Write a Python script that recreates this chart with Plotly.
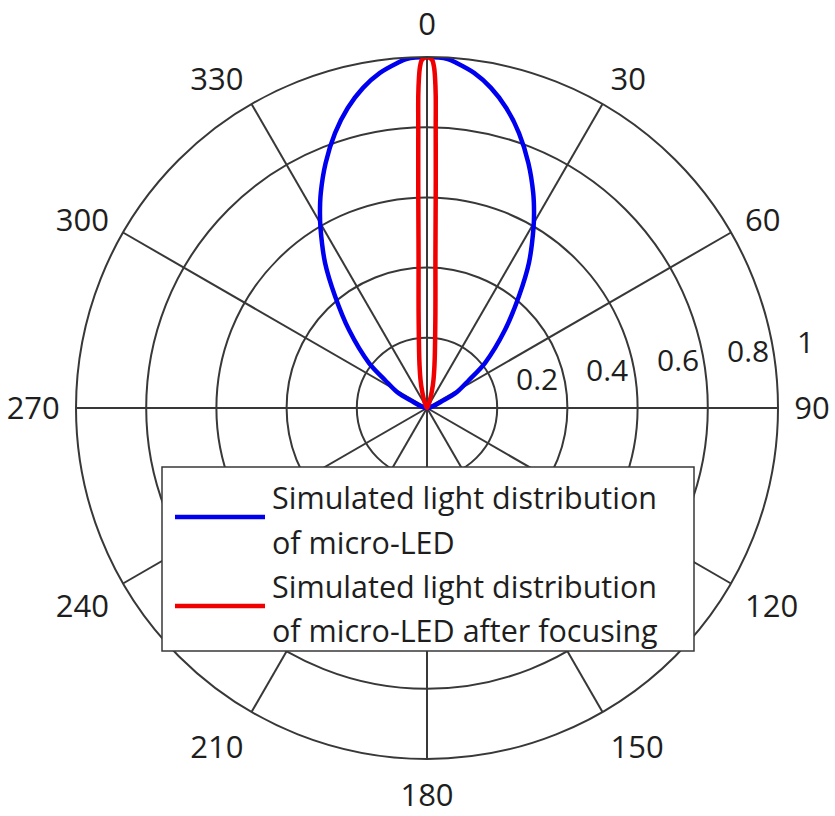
import plotly.graph_objects as go

# Angular ticks (degrees, clockwise from top) and radial ring values
angle_ticks = [0, 30, 60, 90, 120, 150, 180, 210, 240, 270, 300, 330]
radial_ticks = [0.2, 0.4, 0.6, 0.8, 1.0]
radial_labels = ["0.2", "0.4", "0.6", "0.8", "1"]

# Micro-LED emission, half profile, symmetric about 0 deg
led_theta = [0, 3.4, 4.9, 8.0, 11.3, 14.8, 18.5, 22.5, 26.3, 28.75, 30.6, 35.1, 39.4,
             45.0, 52.2, 56.3, 61.9, 64.8, 70.0]
led_r = [1.0, 0.996, 0.9865, 0.964, 0.930, 0.884, 0.826, 0.755, 0.683, 0.634, 0.596,
         0.505, 0.413, 0.314, 0.209, 0.144, 0.097, 0.054, 0.0]

# Micro-LED emission after focusing, half profile
foc_theta = [0, 0.5, 0.9, 1.2, 1.4, 1.6, 1.8, 2.2, 2.6, 3.2, 4.0, 5.0, 6.5, 8.0,
             10.0, 13.0, 16.0, 20.0, 25.0, 30.0]
foc_r = [1.0, 0.997, 0.99, 0.97, 0.94, 0.89, 0.79, 0.65, 0.54, 0.43, 0.345, 0.275,
         0.205, 0.162, 0.122, 0.082, 0.052, 0.026, 0.01, 0.0]

series_names = ["Simulated light distribution", "of micro-LED",
                "Simulated light distribution", "of micro-LED after focusing"]

W, H = 835, 816
CX, CY, R = 427, 408, 351
GRID = "#383838"
TEXT = "#1e1e1e"
FONT = "Open Sans"
BLUE = "#0000f0"
RED = "#f00000"


def mirror(theta, r):
    th = [-t for t in reversed(theta[1:])] + theta
    rr = list(reversed(r[1:])) + r
    return th, rr


def px(x):
    return x / W


def py(y):
    return 1 - y / H


fig = go.Figure()

th, rr = mirror(led_theta, led_r)
fig.add_trace(go.Scatterpolar(theta=th, r=rr, mode="lines",
                              line=dict(color=BLUE, width=4.5, shape="spline", smoothing=0.9),
                              showlegend=False))
th, rr = mirror(foc_theta, foc_r)
fig.add_trace(go.Scatterpolar(theta=th, r=rr, mode="lines",
                              line=dict(color=RED, width=4.5, shape="spline", smoothing=0.9),
                              showlegend=False))

fig.update_layout(
    width=W, height=H,
    margin=dict(l=0, r=0, t=0, b=0),
    paper_bgcolor="white",
    polar=dict(
        bgcolor="white",
        domain=dict(x=[px(CX - R), px(CX + R)], y=[py(CY + R), py(CY - R)]),
        angularaxis=dict(
            rotation=90, direction="clockwise",
            tickmode="array", tickvals=angle_ticks,
            ticktext=[str(a) for a in angle_ticks],
            tickfont=dict(family=FONT, size=31, color=TEXT),
            ticks="outside", ticklen=9, tickcolor="rgba(0,0,0,0)",
            showline=True, linecolor=GRID, linewidth=2,
            showgrid=True, gridcolor=GRID, gridwidth=2,
        ),
        radialaxis=dict(
            range=[0, 1], tickmode="array", tickvals=radial_ticks,
            showticklabels=False, ticks="", showline=False,
            showgrid=True, gridcolor=GRID, gridwidth=2,
        ),
    ),
)

annotations = []
# Ring labels, each set just outside its ring, slightly above the 90 deg spoke
for v, lab in zip(radial_ticks, radial_labels):
    annotations.append(dict(text=lab, xref="paper", yref="paper",
                            x=px(CX + R * v + 17), y=py(CY - 20 - 47 * v),
                            xanchor="left", yanchor="middle", showarrow=False,
                            font=dict(family=FONT, size=30, color=TEXT)))

# Legend box
shapes = [dict(type="rect", xref="paper", yref="paper", layer="above",
               x0=px(162), x1=px(694), y0=py(651), y1=py(467),
               fillcolor="white", line=dict(color=GRID, width=1.5))]
for ly, col in [(517, BLUE), (606, RED)]:
    shapes.append(dict(type="line", xref="paper", yref="paper", layer="above",
                       x0=px(175), x1=px(265), y0=py(ly), y1=py(ly),
                       line=dict(color=col, width=4.5)))

for txt, cy in zip(series_names, [497, 542, 586, 630]):
    annotations.append(dict(text=txt, xref="paper", yref="paper",
                            x=px(270), y=py(cy), xanchor="left", yanchor="middle",
                            showarrow=False,
                            font=dict(family=FONT, size=30.5, color=TEXT)))

fig.update_layout(shapes=shapes, annotations=annotations)

fig.write_html("out.html")
